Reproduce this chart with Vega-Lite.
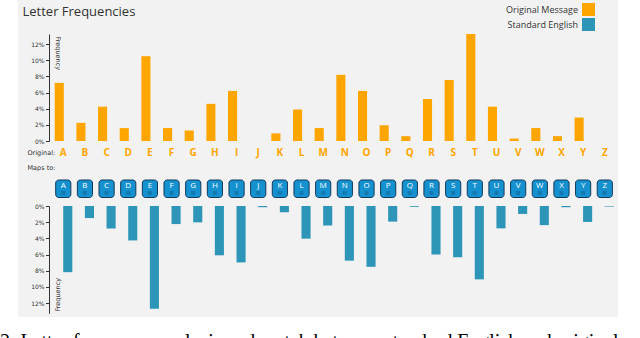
{
  "$schema": "https://vega.github.io/schema/vega-lite/v6.json",
  "width": 600,
  "height": 317,
  "autosize": {"type": "none"},
  "padding": {"left": 18, "right": 22, "top": 0, "bottom": 21},
  "background": "#ffffff",
  "title": {
    "text": "2: Letter frequency analysis and match between standard English and original m",
    "orient": "bottom", "anchor": "start", "frame": "group", "dx": -18, "offset": 31,
    "baseline": "alphabetic", "font": "Liberation Serif", "fontSize": 19.9,
    "fontWeight": "normal", "color": "#000000"
  },
  "config": {
    "view": {"fill": "#f2f2f2", "stroke": null},
    "axis": {"labelFont": "DejaVu Sans", "titleFont": "DejaVu Sans", "labelColor": "#333333",
      "titleColor": "#333333", "domainColor": "#333333", "tickColor": "#333333", "grid": false}
  },
  "data": {"values": [
    {"letter": "A", "maps": "A", "original": 7.2, "english": 8.17},
    {"letter": "B", "maps": "B", "original": 2.25, "english": 1.49},
    {"letter": "C", "maps": "C", "original": 4.25, "english": 2.78},
    {"letter": "D", "maps": "D", "original": 1.6, "english": 4.25},
    {"letter": "E", "maps": "E", "original": 10.5, "english": 12.7},
    {"letter": "F", "maps": "F", "original": 1.6, "english": 2.23},
    {"letter": "G", "maps": "G", "original": 1.3, "english": 2.02},
    {"letter": "H", "maps": "H", "original": 4.6, "english": 6.09},
    {"letter": "I", "maps": "I", "original": 6.2, "english": 6.97},
    {"letter": "J", "maps": "J", "original": 0, "english": 0.15},
    {"letter": "K", "maps": "K", "original": 0.95, "english": 0.77},
    {"letter": "L", "maps": "L", "original": 3.9, "english": 4.03},
    {"letter": "M", "maps": "M", "original": 1.6, "english": 2.41},
    {"letter": "N", "maps": "N", "original": 8.2, "english": 6.75},
    {"letter": "O", "maps": "O", "original": 6.2, "english": 7.51},
    {"letter": "P", "maps": "P", "original": 1.95, "english": 1.93},
    {"letter": "Q", "maps": "Q", "original": 0.6, "english": 0.1},
    {"letter": "R", "maps": "R", "original": 5.2, "english": 5.99},
    {"letter": "S", "maps": "S", "original": 7.55, "english": 6.33},
    {"letter": "T", "maps": "T", "original": 13.25, "english": 9.06},
    {"letter": "U", "maps": "U", "original": 4.25, "english": 2.76},
    {"letter": "V", "maps": "V", "original": 0.3, "english": 0.98},
    {"letter": "W", "maps": "W", "original": 1.6, "english": 2.36},
    {"letter": "X", "maps": "X", "original": 0.6, "english": 0.15},
    {"letter": "Y", "maps": "Y", "original": 2.9, "english": 1.97},
    {"letter": "Z", "maps": "Z", "original": 0, "english": 0.07}
  ]},
  "encoding": {
    "x": {
      "field": "letter", "type": "nominal",
      "scale": {"domain": ["A","B","C","D","E","F","G","H","I","J","K","L","M","N","O","P","Q","R","S","T","U","V","W","X","Y","Z"],
        "paddingInner": 0.3, "paddingOuter": 1.149, "align": 0.87},
      "axis": {
        "orient": "bottom", "offset": -171, "domain": false, "ticks": false, "tickSize": 0,
        "labelPadding": 6, "labelBaseline": "middle", "labelColor": "#ffa500",
        "labelFont": "Open Sans", "labelFontWeight": "bold", "labelFontSize": 10, "labelAngle": 0,
        "title": "Original:", "titleX": 9, "titleY": 6, "titleAlign": "left", "titleBaseline": "middle",
        "titleAngle": 0, "titleFontSize": 6.5, "titleFontWeight": "normal"
      }
    }
  },
  "layer": [
    {
      "mark": {"type": "bar", "width": {"band": 0.6}, "xOffset": -4},
      "encoding": {
        "y": {
          "field": "original", "type": "quantitative",
          "scale": {"domain": [0, 13.25], "range": [141, 34], "nice": false},
          "axis": {
            "orient": "left", "offset": -31, "values": [0, 2, 4, 6, 8, 10, 12],
            "labelExpr": "datum.value + '%'", "labelFontSize": 6, "tickSize": 3.5, "labelPadding": 1.5,
            "title": "Frequency", "titleAngle": 90, "titleX": 8, "titleY": 36, "titleAlign": "left",
            "titleBaseline": "middle", "titleFontSize": 6.5, "titleFontWeight": "normal"
          }
        },
        "color": {
          "datum": "Original Message",
          "scale": {"domain": ["Original Message", "Standard English"], "range": ["#ffa500", "#2d96b8"]},
          "legend": {
            "orient": "none", "legendX": 564, "legendY": 3, "title": null, "padding": 0,
            "symbolType": "square", "symbolSize": 169, "symbolOpacity": 1, "symbolStrokeWidth": 0,
            "labelAlign": "right", "labelOffset": -17, "labelFontSize": 9, "labelFont": "Open Sans",
            "labelColor": "#333333", "rowPadding": 2
          }
        }
      }
    },
    {
      "mark": {"type": "bar", "width": {"band": 0.6}, "xOffset": 4.5},
      "encoding": {
        "y": {
          "field": "english", "type": "quantitative",
          "scale": {"domain": [0, 13.25], "range": [206, 313.3], "nice": false},
          "axis": {
            "orient": "left", "offset": -31, "values": [0, 2, 4, 6, 8, 10, 12],
            "labelExpr": "datum.value + '%'", "labelFontSize": 6, "tickSize": 3.5, "labelPadding": 1.5,
            "title": "Frequency", "titleAngle": 270, "titleX": 8, "titleY": 311, "titleAlign": "left",
            "titleBaseline": "middle", "titleFontSize": 6.5, "titleFontWeight": "normal"
          }
        },
        "color": {"datum": "Standard English"}
      }
    },
    {
      "encoding": {
        "y": {
          "datum": "Maps to:", "type": "nominal",
          "scale": {"range": [180, 197.5], "paddingInner": 0, "paddingOuter": 0},
          "axis": {
            "orient": "left", "offset": -9, "ticks": false, "domain": false, "tickSize": 0,
            "labelAlign": "left", "labelPadding": 0, "labelOffset": -21, "labelFontSize": 6.5,
            "title": "Letter Frequencies", "titleX": -5, "titleY": 15, "titleAngle": 0,
            "titleAlign": "left", "titleBaseline": "alphabetic", "titleFont": "Open Sans",
            "titleFontSize": 13, "titleFontWeight": "normal", "titleColor": "#333333"
          }
        }
      },
      "layer": [
        {"mark": {"type": "bar", "cornerRadius": 3, "fill": "#1591cf", "stroke": "#123a5c", "strokeWidth": 1}},
        {"mark": {"type": "text", "color": "#ffffff", "fontSize": 8, "font": "Open Sans", "dy": -3, "baseline": "middle"},
         "encoding": {"text": {"field": "maps"}}},
        {"mark": {"type": "text", "text": "|||", "color": "#0d2f4d", "fontSize": 4, "dy": 4, "baseline": "middle", "font": "DejaVu Sans"}}
      ]
    }
  ],
  "resolve": {"scale": {"y": "independent"}, "axis": {"y": "independent"}}
}
